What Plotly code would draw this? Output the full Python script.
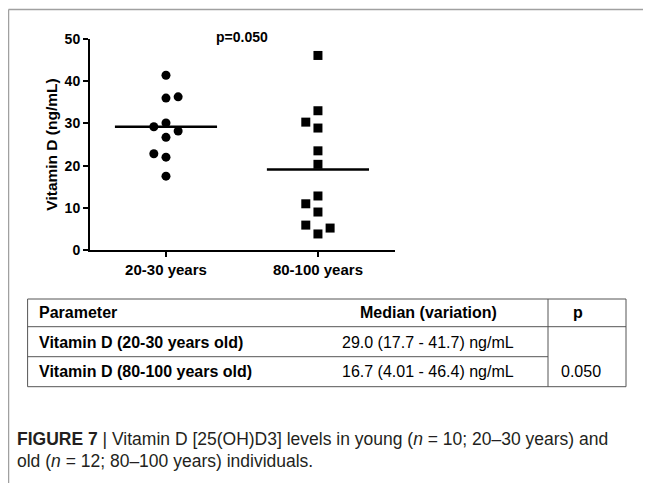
import plotly.graph_objects as go

# ---------------- data ----------------
groups = ["20-30 years", "80-100 years"]
young_values = [41.4, 36.0, 36.3, 30.1, 29.2, 28.2, 26.7, 22.8, 22.0, 17.5]
young_jitter = [0, 0, 1, 0, -1, 1, 0, -1, 0, 0]
old_values = [46.1, 33.0, 30.3, 28.9, 23.5, 20.3, 12.8, 10.95, 9.0, 5.9, 5.2, 3.8]
old_jitter = [0, 0, -1, 0, 0, 0, 0, -1, 0, -1, 1, 0]
center_lines = [29.2, 19.1]
y_ticks = [0, 10, 20, 30, 40, 50]
p_label = "p=0.050"

table_header = ["Parameter", "Median (variation)", "p"]
table_params = ["Vitamin D (20-30 years old)", "Vitamin D (80-100 years old)"]
table_medians = ["29.0 (17.7 - 41.7) ng/mL", "16.7 (4.01 - 46.4) ng/mL"]
table_p = "0.050"

caption_line1 = "<b>FIGURE 7</b> | Vitamin D [25(OH)D3] levels in young (<i>n</i> = 10; 20–30 years) and"
caption_line2 = "old (<i>n</i> = 12; 80–100 years) individuals."

# ---------------- layout helpers ----------------
PAGE = 8  # browser body margin
W, H = 651 - PAGE, 483 - PAGE
# plot area in screen pixels
SL, SR, ST, SB = 90, 395, 39, 250
L, R, T, B = SL - PAGE, SR - PAGE, ST - PAGE, SB - PAGE
JIT = 0.08
HALF = 0.336


def px(x):  # screen x -> paper
    return (x - SL) / (SR - SL)


def py(y):  # screen y -> paper
    return (SB - y) / (SB - ST)


FONT = "Liberation Sans, Arial, sans-serif"

fig = go.Figure()

fig.add_trace(go.Scatter(
    x=[0 + j * JIT for j in young_jitter], y=young_values, mode="markers",
    marker=dict(symbol="circle", size=9, color="black"), showlegend=False))
fig.add_trace(go.Scatter(
    x=[1 + j * JIT for j in old_jitter], y=old_values, mode="markers",
    marker=dict(symbol="square", size=9, color="black"), showlegend=False))
for i, v in enumerate(center_lines):
    fig.add_trace(go.Scatter(
        x=[i - HALF, i + HALF], y=[v, v], mode="lines",
        line=dict(color="black", width=2.5), showlegend=False))

fig.update_xaxes(
    range=[-0.5, 1.507], tickvals=[0, 1], ticktext=groups,
    showline=True, linecolor="black", linewidth=2,
    ticks="outside", ticklen=5, tickwidth=2, tickcolor="black",
    showgrid=False, zeroline=False,
    tickfont=dict(family=FONT, size=15, color="black", weight="bold"))
fig.update_yaxes(
    range=[0, 50], tickvals=y_ticks,
    showline=True, linecolor="black", linewidth=2,
    ticks="outside", ticklen=5, tickwidth=2, tickcolor="black",
    showgrid=False, zeroline=False,
    tickfont=dict(family=FONT, size=14, color="black", weight="bold"),
    title=dict(text="Vitamin D (ng/mL)", standoff=3,
               font=dict(family=FONT, size=15.5, color="black", weight="bold")))

ann = []
ann.append(dict(x=px(242), y=py(37), xref="paper", yref="paper", text=p_label,
                showarrow=False, xanchor="center", yanchor="middle",
                font=dict(family=FONT, size=14, color="black", weight="bold")))

# ---- table ----
shapes = []
border = dict(color="#555555", width=1)
tl, tr, tdiv = 27.6, 626, 548
rows = [299, 326.7, 356.7, 386.7]
for k, yy in enumerate(rows):
    x1 = tdiv if k == 2 else tr
    shapes.append(dict(type="line", xref="paper", yref="paper",
                       x0=px(tl), x1=px(x1), y0=py(yy), y1=py(yy), line=border))
for xx in (tl, tdiv, tr):
    shapes.append(dict(type="line", xref="paper", yref="paper",
                       x0=px(xx), x1=px(xx), y0=py(rows[0]), y1=py(rows[-1]), line=border))

tfont_b = dict(family=FONT, size=16, color="black", weight="bold")
tfont = dict(family=FONT, size=16, color="black")
row_centers = [313, 342.5, 371.5]
med_x = 428
p_x = 578
ann.append(dict(x=px(36.5), y=py(row_centers[0]), xref="paper", yref="paper",
                text=table_header[0], showarrow=False, xanchor="left", yanchor="middle", font=tfont_b))
ann.append(dict(x=px(med_x), y=py(row_centers[0]), xref="paper", yref="paper",
                text=table_header[1], showarrow=False, xanchor="center", yanchor="middle", font=tfont_b))
ann.append(dict(x=px(p_x), y=py(row_centers[0]), xref="paper", yref="paper",
                text=table_header[2], showarrow=False, xanchor="center", yanchor="middle", font=tfont_b))
for k in range(2):
    ann.append(dict(x=px(36.5), y=py(row_centers[k + 1]), xref="paper", yref="paper",
                    text=table_params[k], showarrow=False, xanchor="left", yanchor="middle", font=tfont_b))
    ann.append(dict(x=px(med_x), y=py(row_centers[k + 1]), xref="paper", yref="paper",
                    text=table_medians[k], showarrow=False, xanchor="center", yanchor="middle", font=tfont))
ann.append(dict(x=px(p_x + 3), y=py(row_centers[2]), xref="paper", yref="paper",
                text=table_p, showarrow=False, xanchor="center", yanchor="middle", font=tfont))

# ---- caption ----
cfont = dict(family=FONT, size=17.5, color="#231f20")
ann.append(dict(x=px(15), y=py(439), xref="paper", yref="paper", text=caption_line1,
                showarrow=False, xanchor="left", yanchor="middle", font=cfont))
ann.append(dict(x=px(15), y=py(461), xref="paper", yref="paper", text=caption_line2,
                showarrow=False, xanchor="left", yanchor="middle", font=cfont))

# ---- outer frame ----
frame = dict(color="#a0a0a0", width=1.5)
shapes.append(dict(type="line", xref="paper", yref="paper",
                   x0=px(8.5), x1=px(651), y0=py(9.5), y1=py(9.5), line=frame))
shapes.append(dict(type="line", xref="paper", yref="paper",
                   x0=px(8.5), x1=px(8.5), y0=py(9.5), y1=py(483), line=frame))

fig.update_layout(
    width=W, height=H, autosize=False,
    margin=dict(l=L, r=W - R, t=T, b=H - B),
    paper_bgcolor="white", plot_bgcolor="white",
    annotations=ann, shapes=shapes, showlegend=False)

fig.write_html("out.html")
